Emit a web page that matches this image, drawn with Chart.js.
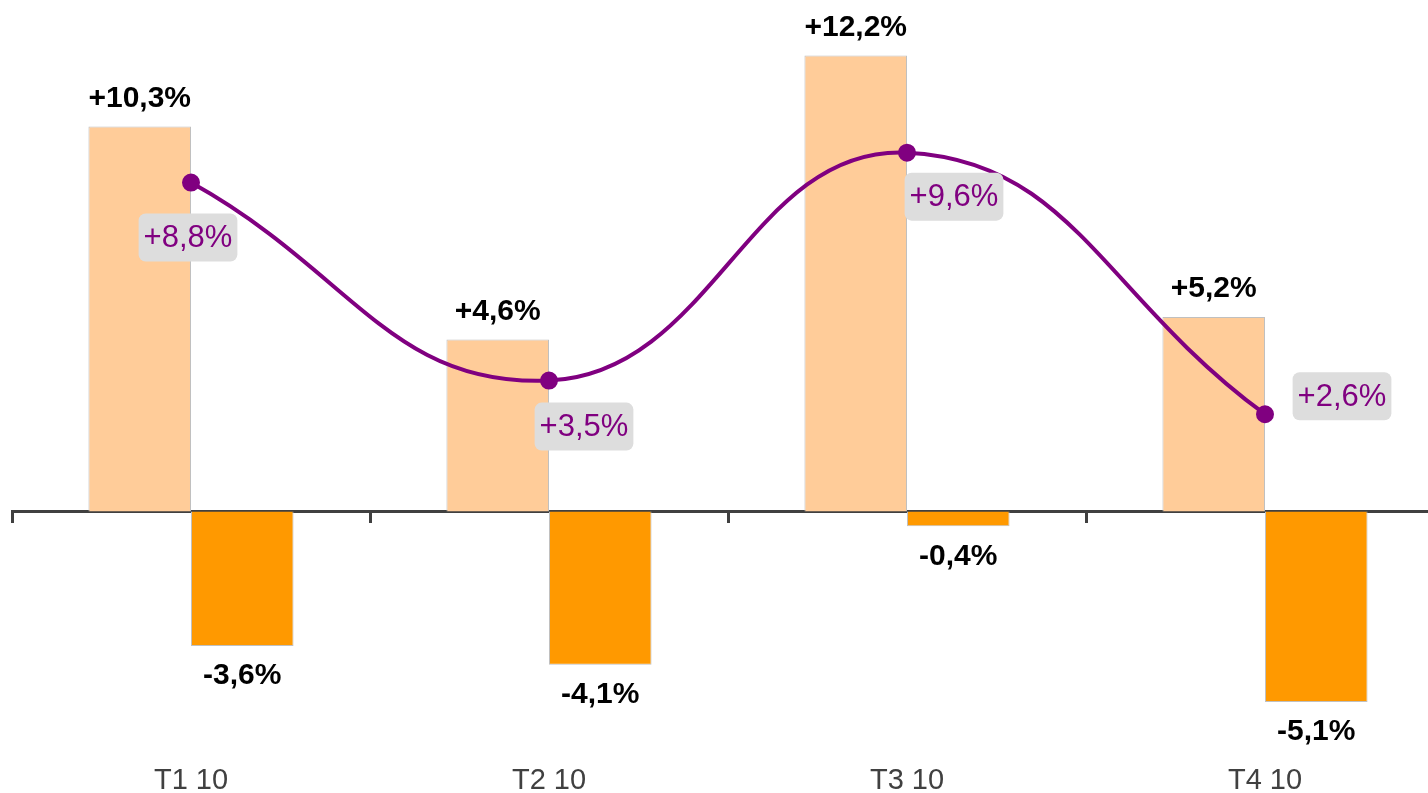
<!DOCTYPE html>
<html>
<head>
<meta charset="utf-8">
<script src="https://cdn.jsdelivr.net/npm/chart.js@4/dist/chart.umd.min.js"></script>
<style>
  html, body { margin: 0; padding: 0; background: #fff; overflow: hidden; }
  .wrap { position: absolute; left: 0; top: 0; width: 1455px; height: 808px; }
</style>
</head>
<body>
<div class="wrap"><canvas id="myChart" width="1455" height="808"></canvas></div>
<script>
// data
const categories = ["T1 10", "T2 10", "T3 10", "T4 10"];
const gains = [10.3, 4.6, 12.2, 5.2];
const losses = [-3.6, -4.1, -0.4, -5.1];
const netValues = [8.8, 3.5, 9.6, 2.6];

// where the grey boxes sit relative to their point (dx, dy)
const netLabelOffsets = [[-3, 55], [35, 46], [47, 44], [77, -18]];

const fmt = (v) => (v > 0 ? "+" : "") + v.toFixed(1).replace(".", ",") + "%";

const valueLabels = {
  id: "valueLabels",
  afterDatasetsDraw(chart) {
    const ctx = chart.ctx;
    ctx.save();
    // bar labels
    [0, 1].forEach((di) => {
      const meta = chart.getDatasetMeta(di);
      const data = chart.data.datasets[di].data;
      ctx.font = "bold 30px 'Liberation Sans', Arial, sans-serif";
      ctx.fillStyle = "#000";
      ctx.textAlign = "center";
      ctx.textBaseline = "middle";
      meta.data.forEach((bar, i) => {
        const v = data[i];
        const y = v >= 0 ? bar.y - 28 : bar.y + 30;
        ctx.fillText(fmt(v), bar.x, y);
      });
    });
    // line labels
    const lineMeta = chart.getDatasetMeta(2);
    ctx.font = "31px 'Liberation Sans', Arial, sans-serif";
    lineMeta.data.forEach((pt, i) => {
      const txt = fmt(netValues[i]);
      const cx = pt.x + netLabelOffsets[i][0];
      const cy = pt.y + netLabelOffsets[i][1];
      const w = ctx.measureText(txt).width + 10;
      const h = 48;
      ctx.fillStyle = "#dddddd";
      ctx.beginPath();
      ctx.roundRect(cx - w / 2, cy - h / 2, w, h, 7);
      ctx.fill();
      ctx.fillStyle = "#800080";
      ctx.fillText(txt, cx, cy + 1);
    });
    ctx.restore();
  },
};

const ctx = document.getElementById("myChart").getContext("2d");

new Chart(ctx, {
  type: "bar",
  data: {
    labels: categories,
    datasets: [
      {
        data: gains,
        backgroundColor: "#ffcc99",
        borderColor: "#c0c0c0",
        borderWidth: 1,
        categoryPercentage: 0.573,
        barPercentage: 1,
        order: 2,
      },
      {
        data: losses,
        backgroundColor: "#ff9900",
        borderColor: "#c0c0c0",
        borderWidth: 1,
        categoryPercentage: 0.573,
        barPercentage: 1,
        order: 2,
      },
      {
        type: "line",
        data: netValues,
        borderColor: "#800080",
        backgroundColor: "#800080",
        borderWidth: 4,
        pointRadius: 7,
        pointHoverRadius: 7,
        tension: 0.45,
        order: 0,
      },
    ],
  },
  options: {
    responsive: false,
    animation: false,
    layout: { padding: { left: 12, right: 0, top: 0, bottom: 0 } },
    plugins: {
      legend: { display: false },
      tooltip: { enabled: false },
    },
    scales: {
      x: {
        grid: { display: false, drawTicks: false },
        border: { display: false },
        ticks: {
          color: "#404040",
          padding: 10,
          font: { size: 29, family: "'Liberation Sans', Arial, sans-serif" },
        },
      },
      zero: {
        type: "category",
        axis: "x",
        position: { y: 0 },
        z: 1,
        offset: true,
        grid: {
          offset: true,
          drawOnChartArea: false,
          drawTicks: true,
          tickLength: 10,
          tickWidth: 3,
          tickColor: "#404040",
        },
        border: { display: true, color: "#404040", width: 3 },
        ticks: { display: false },
      },
      y: {
        display: false,
        min: -6.47,
        max: 13.39,
      },
    },
  },
  plugins: [valueLabels],
});
</script>
</body>
</html>
